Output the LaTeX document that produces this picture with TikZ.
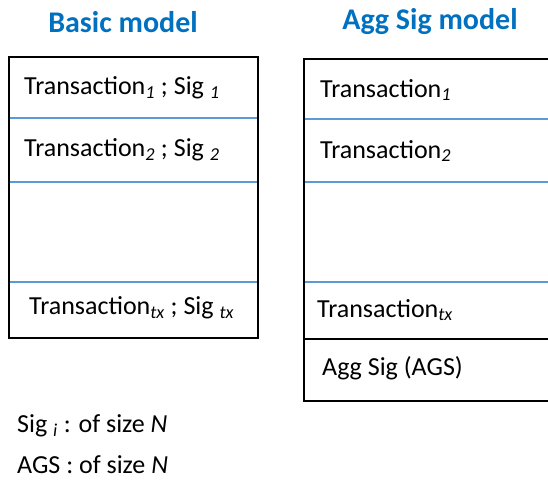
\documentclass[tikz,border=0pt]{standalone}
\usepackage{fontspec}
\setmainfont{Carlito}
\usetikzlibrary{positioning}
\definecolor{rowblue}{HTML}{5B9BD5}
\definecolor{titleblue}{HTML}{0070C0}
\newcommand{\txsub}[1]{\textsubscript{\itshape #1}}
\tikzset{%
  frame/.style   = {draw=black, line width=2.2pt},%
  rowline/.style = {draw=rowblue, line width=2.2pt},%
  heading/.style = {font=\fontsize{30}{36}\selectfont\bfseries, text=titleblue},%
  entry/.style   = {anchor=west, inner sep=0pt, font=\fontsize{26}{31}\selectfont},%
  note/.style    = {entry}%
}

\begin{document}
\begin{tikzpicture}[x=1pt, y=-1pt]
  \useasboundingbox (0,0) rectangle (548,479);
  % titles
  \node[heading] (basic) at (123,22) {Basic model};
  \node[heading] (agg) at (430,22) {Agg Sig model};
  % basic model block
  \draw[rowline] (9,118) -- (258,118);
  \draw[rowline] (9,182) -- (258,182);
  \draw[rowline] (9,282) -- (258,282);
  \draw[frame] (9,57) rectangle (258,338);
  \node[entry] (b1) at (24,88) {Transaction\txsub{1} ; Sig \txsub{1}};
  \node[entry] (b2) at (24,150) {Transaction\txsub{2} ; Sig \txsub{2}};
  \node[entry] (btx) at (29,308) {Transaction\txsub{tx} ; Sig \txsub{tx}};
  % agg sig model block (runs off the right edge)
  \draw[rowline] (304,119) -- (548,119);
  \draw[rowline] (304,182) -- (548,182);
  \draw[rowline] (304,282) -- (548,282);
  \draw[frame] (304,339) -- (548,339);
  \draw[frame] (548,59) -| (304,401) -- (548,401);
  \node[entry] (a1) at (320,90) {Transaction\txsub{1}};
  \node[entry] (a2) at (320,151) {Transaction\txsub{2}};
  \node[entry] (atx) at (317,310) {Transaction\txsub{tx}};
  \node[entry] (ags) at (322,368) {Agg Sig (AGS)};
  % sizes
  \node[note] (nsig) at (17,426) {Sig \txsub{i} : of size \textit{N}};
  \node[note] (nags) at (17,465) {AGS : of size \textit{N}};
\end{tikzpicture}
\end{document}
